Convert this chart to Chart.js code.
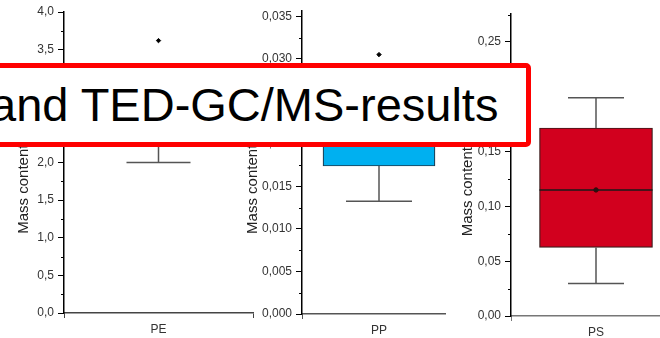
<!DOCTYPE html>
<html>
<head>
<meta charset="utf-8">
<script src="https://cdn.jsdelivr.net/npm/chart.js@4"></script>
<style>
  html, body { margin: 0; padding: 0; background: #fff; overflow: hidden; }
  body { width: 660px; height: 338px; position: relative; font-family: "Liberation Sans", Arial, sans-serif; }
  canvas { position: absolute; top: 0; }
  #banner {
    position: absolute; left: -20px; top: 63px; width: 551px; height: 84px;
    box-sizing: border-box; border: 5px solid #ff0000; border-radius: 5px;
    background: #fff; z-index: 10; white-space: nowrap; overflow: hidden;
    font-size: 47px; line-height: 74px; padding-left: 5px; color: #000;
  }
</style>
</head>
<body>
<canvas id="chartPE" width="258" height="338" style="left:0px"></canvas>
<canvas id="chartPP" width="241" height="338" style="left:220px"></canvas>
<canvas id="chartPS" width="240" height="338" style="left:446px;background:#fff"></canvas>
<div id="banner">and TED-GC/MS-results</div>
<script>
// Daten der Boxplots
var categories = ['PE', 'PP', 'PS'];
var q1 = [2.45, 0.0174, 0.0625];
var median = [2.75, 0.0205, 0.115];
var q3 = [3.05, 0.0245, 0.1715];
var whiskerLow = [2.0, 0.01325, 0.0297];
var whiskerHigh = [3.3, 0.027, 0.199];
var means = [2.8, 0.021, 0.115];
var outliers = [[3.62], [0.0305], []];

// Achsen
var yMax = [4.0, 0.0356, 0.2755];
var majorTicks = [
  [0, 0.5, 1.0, 1.5, 2.0, 2.5, 3.0, 3.5, 4.0],
  [0, 0.005, 0.010, 0.015, 0.020, 0.025, 0.030, 0.035],
  [0, 0.05, 0.10, 0.15, 0.20, 0.25]
];
var minorTicks = [
  [0.25, 0.75, 1.25, 1.75, 2.25, 2.75, 3.25, 3.75],
  [0.0025, 0.0075, 0.0125, 0.0175, 0.0225, 0.0275, 0.0325],
  [0.025, 0.075, 0.125, 0.175, 0.225, 0.275]
];
var decimals = [1, 3, 2];
var yTitle = 'Mass content in mg/g';

// Layout der drei Panels
var panels = [
  { id: 'chartPE', padLeft: 15, axisW: 49, top: 12, bottom: 313, fill: '#7f7f7f', border: '#333', capW: 64, boxW: 112, xColor: '#444' },
  { id: 'chartPP', padLeft: 24, axisW: 58, top: 5, bottom: 314, fill: '#00b0f0', border: '#1d3b4f', capW: 66, boxW: 112, xColor: '#555' },
  { id: 'chartPS', padLeft: 13, axisW: 52, top: 14, bottom: 316, fill: '#d2001e', border: '#3a1a1a', capW: 56, boxW: 113, xColor: '#777' }
];

Chart.defaults.font.family = '"Liberation Sans", Arial, sans-serif';
Chart.defaults.animation = false;

// Whisker, Median und kleine Ticks zeichnen
var boxPlugin = {
  id: 'boxExtras',
  afterDatasetsDraw: function(chart) {
    var i = chart.options.panelIndex;
    var p = panels[i];
    var x = chart.scales.x, y = chart.scales.y;
    var ctx = chart.ctx;
    var cx = x.getPixelForValue(0);
    var half = p.boxW / 2;
    ctx.save();
    ctx.strokeStyle = '#555';
    ctx.lineWidth = 1.5;
    ctx.beginPath();
    ctx.moveTo(cx, y.getPixelForValue(q3[i]));
    ctx.lineTo(cx, y.getPixelForValue(whiskerHigh[i]));
    ctx.moveTo(cx, y.getPixelForValue(q1[i]));
    ctx.lineTo(cx, y.getPixelForValue(whiskerLow[i]));
    ctx.moveTo(cx - p.capW / 2, y.getPixelForValue(whiskerHigh[i]));
    ctx.lineTo(cx + p.capW / 2, y.getPixelForValue(whiskerHigh[i]));
    ctx.moveTo(cx - p.capW / 2, y.getPixelForValue(whiskerLow[i]));
    ctx.lineTo(cx + p.capW / 2, y.getPixelForValue(whiskerLow[i]));
    ctx.stroke();
    ctx.strokeStyle = '#1a1a1a';
    ctx.beginPath();
    ctx.moveTo(cx - half, y.getPixelForValue(median[i]));
    ctx.lineTo(cx + half, y.getPixelForValue(median[i]));
    ctx.stroke();
    // kleine Ticks
    ctx.strokeStyle = '#000';
    ctx.lineWidth = 1;
    ctx.beginPath();
    minorTicks[i].forEach(function(v) {
      if (v > yMax[i]) return;
      var py = Math.round(y.getPixelForValue(v)) + 0.5;
      ctx.moveTo(y.right, py);
      ctx.lineTo(y.right - 3, py);
    });
    ctx.stroke();
    ctx.restore();
  }
};

panels.forEach(function(p, i) {
  var ctx = document.getElementById(p.id).getContext('2d');
  new Chart(ctx, {
    type: 'bar',
    data: {
      labels: [categories[i]],
      datasets: [
        {
          type: 'line',
          data: [means[i]],
          showLine: false,
          pointRadius: 2.2,
          pointBackgroundColor: '#3a0a0a',
          pointBorderColor: '#3a0a0a',
          order: 0
        },
        {
          type: 'line',
          data: outliers[i].map(function(v) { return { x: categories[i], y: v }; }),
          showLine: false,
          pointStyle: 'rectRot',
          pointRadius: 2.2,
          pointBackgroundColor: '#000',
          pointBorderColor: '#000',
          order: 0
        },
        {
          data: [[q1[i], q3[i]]],
          backgroundColor: p.fill,
          borderColor: p.border,
          borderWidth: 1.2,
          borderSkipped: false,
          barThickness: p.boxW,
          order: 1
        }
      ]
    },
    options: {
      panelIndex: i,
      responsive: false,
      layout: { padding: { left: p.padLeft, top: p.top, right: 0, bottom: 0 } },
      plugins: { legend: { display: false }, tooltip: { enabled: false } },
      scales: {
        x: {
          offset: true,
          grid: { drawOnChartArea: false, drawTicks: true, tickLength: 5, tickColor: p.xColor, tickWidth: 1 },
          border: { color: p.xColor, width: 1.5 },
          ticks: { color: '#333', font: { size: 12 }, padding: 4 },
          afterFit: function(scale) { scale.height = 338 - p.bottom; }
        },
        y: {
          min: 0,
          max: yMax[i],
          afterBuildTicks: function(scale) {
            scale.ticks = majorTicks[i].map(function(v) { return { value: v }; });
          },
          afterFit: function(scale) { scale.width = p.axisW; },
          grid: { drawOnChartArea: false, drawTicks: true, tickLength: 6, tickColor: '#000', tickWidth: 1 },
          border: { color: '#000', width: 1.5 },
          ticks: {
            color: '#333',
            font: { size: 12 },
            padding: 4,
            callback: function(v) { return Number(v).toFixed(decimals[i]).replace('.', ','); }
          },
          title: { display: true, text: yTitle, color: '#222', font: { size: 15 }, padding: { top: 0, bottom: 0 } }
        }
      }
    },
    plugins: [boxPlugin]
  });
});
</script>
</body>
</html>
